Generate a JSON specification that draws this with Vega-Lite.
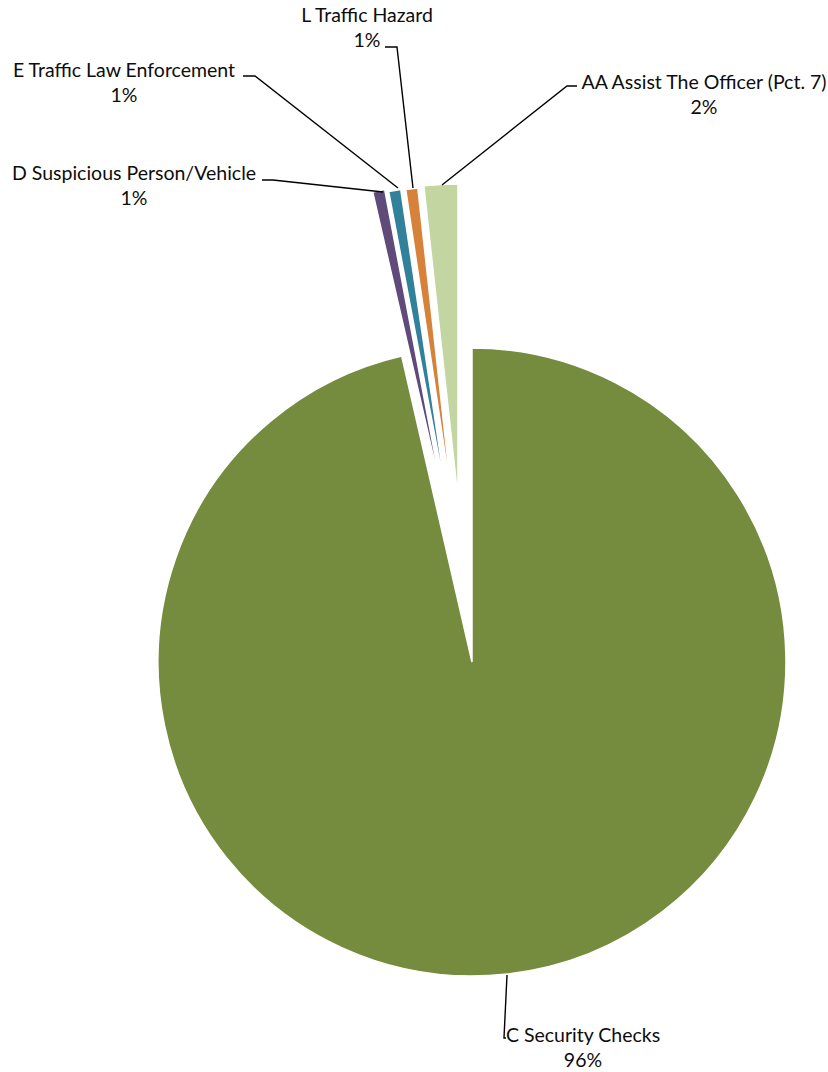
{
  "$schema": "https://vega.github.io/schema/vega-lite/v6.json",
  "width": 828,
  "height": 1072,
  "autosize": {"type": "fit", "contains": "padding"},
  "padding": 0,
  "background": "white",
  "config": {"view": {"stroke": null}, "text": {"font": "Lato"}},
  "datasets": {
    "slices": [
      {"category": "C Security Checks", "value": 1556},
      {"category": "D Suspicious Person/Vehicle", "value": 10},
      {"category": "E Traffic Law Enforcement", "value": 10},
      {"category": "L Traffic Hazard", "value": 10},
      {"category": "AA Assist The Officer (Pct. 7)", "value": 28}
    ],
    "labels": [
      {"category": "C Security Checks", "pct": "96%", "lx": 0.3535, "ly": -1.2277},
      {"category": "D Suspicious  Person/Vehicle", "pct": "1%", "lx": -1.0764, "ly": 1.5159},
      {"category": "E Traffic Law Enforcement", "pct": "1%", "lx": -1.1083, "ly": 1.8429},
      {"category": "L Traffic Hazard", "pct": "1%", "lx": -0.3344, "ly": 2.0181},
      {"category": "AA Assist The Officer (Pct. 7)", "pct": "2%", "lx": 0.7389, "ly": 1.8057}
    ],
    "leaders": [
      {"category": "C", "step": 1, "px": 0.1115, "py": -0.9968},
      {"category": "C", "step": 2, "px": 0.1019, "py": -1.1975},
      {"category": "C", "step": 3, "px": 0.1083, "py": -1.1975},
      {"category": "AA", "step": 1, "px": -0.0955, "py": 1.5191},
      {"category": "AA", "step": 2, "px": 0.3025, "py": 1.8344},
      {"category": "AA", "step": 3, "px": 0.3344, "py": 1.8344},
      {"category": "L", "step": 1, "px": -0.1879, "py": 1.5096},
      {"category": "L", "step": 2, "px": -0.2389, "py": 1.9586},
      {"category": "L", "step": 3, "px": -0.2771, "py": 1.9586},
      {"category": "E", "step": 1, "px": -0.2357, "py": 1.5096},
      {"category": "E", "step": 2, "px": -0.6911, "py": 1.8662},
      {"category": "E", "step": 3, "px": -0.7293, "py": 1.8662},
      {"category": "D", "step": 1, "px": -0.2834, "py": 1.4968},
      {"category": "D", "step": 2, "px": -0.6338, "py": 1.5350},
      {"category": "D", "step": 3, "px": -0.6688, "py": 1.5350}
    ]
  },
  "encoding": {
    "x": {"type": "quantitative", "scale": {"domain": [-1.5032, 1.1338], "nice": false, "zero": false}, "axis": null},
    "y": {"type": "quantitative", "scale": {"domain": [-1.3057, 2.1083], "nice": false, "zero": false}, "axis": null}
  },
  "layer": [
    {
      "data": {"name": "slices"},
      "transform": [
        {"stack": "value", "groupby": [], "as": ["t0", "t1"]},
        {"filter": "datum.category === 'C Security Checks'"}
      ],
      "mark": {"type": "arc", "outerRadius": 314, "stroke": "white", "strokeWidth": 1.5},
      "encoding": {
        "x": {"datum": 0, "type": "quantitative"},
        "y": {"datum": 0, "type": "quantitative"},
        "theta": {"field": "t0", "type": "quantitative", "scale": {"domain": [0, 1614]}},
        "theta2": {"field": "t1"},
        "color": {"field": "category", "type": "nominal", "legend": null,
          "scale": {"domain": ["C Security Checks", "D Suspicious Person/Vehicle", "E Traffic Law Enforcement", "L Traffic Hazard", "AA Assist The Officer (Pct. 7)"],
                    "range": ["#758C3F", "#5F4A7A", "#31819A", "#D6823A", "#C3D5A0"]}}
      }
    },
    {
      "data": {"name": "slices"},
      "transform": [
        {"stack": "value", "groupby": [], "as": ["t0", "t1"]},
        {"filter": "datum.category === 'D Suspicious Person/Vehicle'"}
      ],
      "mark": {"type": "arc", "outerRadius": 314, "stroke": "white", "strokeWidth": 1.5},
      "encoding": {
        "x": {"datum": -0.0924, "type": "quantitative"},
        "y": {"datum": 0.5223, "type": "quantitative"},
        "theta": {"field": "t0", "type": "quantitative"},
        "theta2": {"field": "t1"},
        "color": {"field": "category", "type": "nominal", "legend": null}
      }
    },
    {
      "data": {"name": "slices"},
      "transform": [
        {"stack": "value", "groupby": [], "as": ["t0", "t1"]},
        {"filter": "datum.category === 'E Traffic Law Enforcement'"}
      ],
      "mark": {"type": "arc", "outerRadius": 314, "stroke": "white", "strokeWidth": 1.5},
      "encoding": {
        "x": {"datum": -0.0796, "type": "quantitative"},
        "y": {"datum": 0.5159, "type": "quantitative"},
        "theta": {"field": "t0", "type": "quantitative"},
        "theta2": {"field": "t1"},
        "color": {"field": "category", "type": "nominal", "legend": null}
      }
    },
    {
      "data": {"name": "slices"},
      "transform": [
        {"stack": "value", "groupby": [], "as": ["t0", "t1"]},
        {"filter": "datum.category === 'L Traffic Hazard'"}
      ],
      "mark": {"type": "arc", "outerRadius": 314, "stroke": "white", "strokeWidth": 1.5},
      "encoding": {
        "x": {"datum": -0.0637, "type": "quantitative"},
        "y": {"datum": 0.5159, "type": "quantitative"},
        "theta": {"field": "t0", "type": "quantitative"},
        "theta2": {"field": "t1"},
        "color": {"field": "category", "type": "nominal", "legend": null}
      }
    },
    {
      "data": {"name": "slices"},
      "transform": [
        {"stack": "value", "groupby": [], "as": ["t0", "t1"]},
        {"filter": "datum.category === 'AA Assist The Officer (Pct. 7)'"}
      ],
      "mark": {"type": "arc", "outerRadius": 314, "stroke": "white", "strokeWidth": 1.5},
      "encoding": {
        "x": {"datum": -0.0446, "type": "quantitative"},
        "y": {"datum": 0.5223, "type": "quantitative"},
        "theta": {"field": "t0", "type": "quantitative"},
        "theta2": {"field": "t1"},
        "color": {"field": "category", "type": "nominal", "legend": null}
      }
    },
    {
      "data": {"name": "leaders"},
      "mark": {"type": "line", "color": "#000000", "strokeWidth": 1.4},
      "encoding": {
        "x": {"field": "px", "type": "quantitative"},
        "y": {"field": "py", "type": "quantitative"},
        "detail": {"field": "category"},
        "order": {"field": "step"}
      }
    },
    {
      "data": {"name": "labels"},
      "mark": {"type": "text", "fontSize": 19.5, "dy": -12, "color": "#0d0d0d", "align": "center", "baseline": "middle"},
      "encoding": {
        "x": {"field": "lx", "type": "quantitative"},
        "y": {"field": "ly", "type": "quantitative"},
        "text": {"field": "category"}
      }
    },
    {
      "data": {"name": "labels"},
      "mark": {"type": "text", "fontSize": 19.5, "dy": 13, "color": "#0d0d0d", "align": "center", "baseline": "middle"},
      "encoding": {
        "x": {"field": "lx", "type": "quantitative"},
        "y": {"field": "ly", "type": "quantitative"},
        "text": {"field": "pct"}
      }
    }
  ]
}
